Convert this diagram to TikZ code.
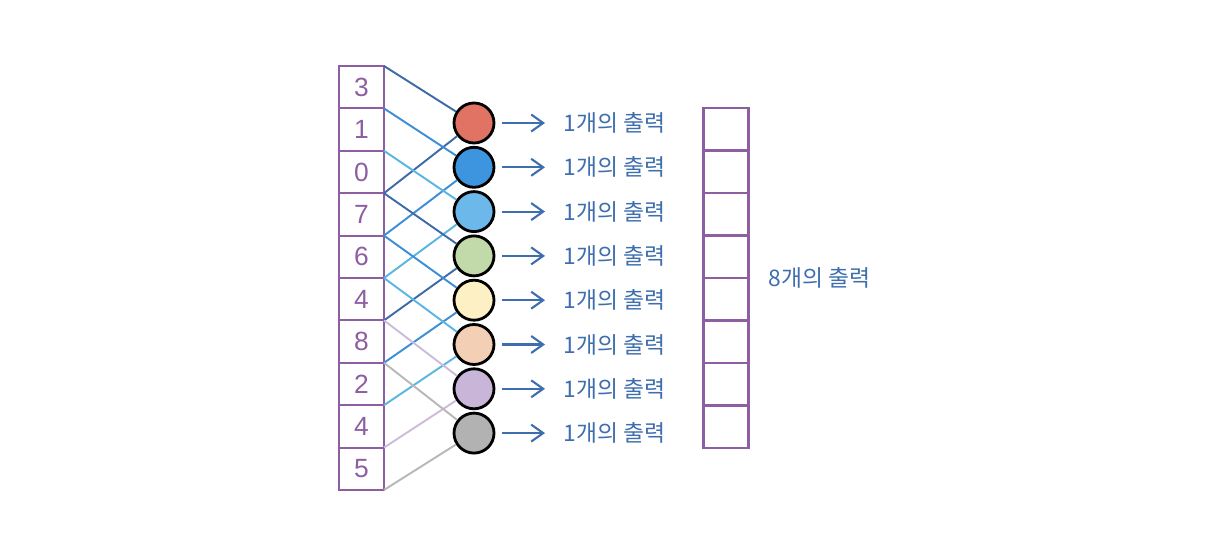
\documentclass[tikz,border=0pt]{standalone}
\usepackage{fontspec}
\setmainfont{Liberation Sans}
\newfontfamily\kor{Noto Sans CJK KR}
\usetikzlibrary{arrows.meta}
\definecolor{boxpurple}{HTML}{8E5EA2}
\definecolor{txtblue}{HTML}{3E6EAE}
\definecolor{cred}{HTML}{E07363}
\definecolor{cblue}{HTML}{3E95DF}
\definecolor{clight}{HTML}{6CB8EA}
\definecolor{cgreen}{HTML}{C2D9AA}
\definecolor{cyellow}{HTML}{FDF0C4}
\definecolor{cpeach}{HTML}{F2CFB5}
\definecolor{cpurple}{HTML}{C9B5D7}
\definecolor{cgray}{HTML}{B2B2B2}
\definecolor{ldark}{HTML}{3F6AA8}
\definecolor{lblue}{HTML}{3C8ED6}
\definecolor{llight}{HTML}{5AB5E2}
\definecolor{llav}{HTML}{CDBBDC}
\definecolor{lgray}{HTML}{B8B8B8}

\begin{document}
\begin{tikzpicture}[x=0.02cm,y=-0.02cm,
   cell/.style={draw=boxpurple,line width=1.2pt,minimum width=0.9cm,minimum height=0.848cm,inner sep=0,outer sep=0,text=boxpurple,font=\fontsize{15}{15}\selectfont},
   ball/.style={circle,draw=black,line width=1.6pt,minimum size=0.8cm,inner sep=0},
   lab/.style={anchor=west,inner sep=0,text=txtblue,font=\kor\fontsize{13}{14}\selectfont},
   link/.style={line width=1.1pt},
   arr/.style={draw=txtblue,line width=1.2pt,-{Straight Barb[length=2.4mm,width=3.4mm]},shorten <=0.14cm,shorten >=0.36cm}]
   \useasboundingbox (0,0) rectangle (1226,553);
   % input cells
   \foreach \v [count=\i from 0] in {3,1,0,7,6,4,8,2,4,5}
     \node[cell] (in\i) at (361.5,87.2+42.4*\i) {\v};
   % output cells
   \foreach \j in {0,...,7}
     \node[cell] (out\j) at (726,129.25+42.5*\j) {};
   \node[lab] (total) at (768,278) {8개의 출력};
   % windows
   \foreach \c [count=\i from 0] in {cred,cblue,clight,cgreen,cyellow,cpeach,cpurple,cgray}
     \node[ball,fill=\c] (c\i) at (474,123+44.3*\i) {};
   \foreach \l [count=\i from 0] in {ldark,lblue,llight,ldark,lblue,llight,llav,lgray} {
     \pgfmathtruncatemacro\k{\i+3}
     \draw[link,\l] (in\i.north east) -- (c\i);
     \ifnum\k<10
       \draw[link,\l] (in\k.north east) -- (c\i);
     \else
       \draw[link,\l] (in9.south east) -- (c\i);
     \fi
     \node[lab] (t\i) at (563,123+44.3*\i) {1개의 출력};
     \draw[arr] (c\i) -- (t\i);
   }
\end{tikzpicture}
\end{document}
